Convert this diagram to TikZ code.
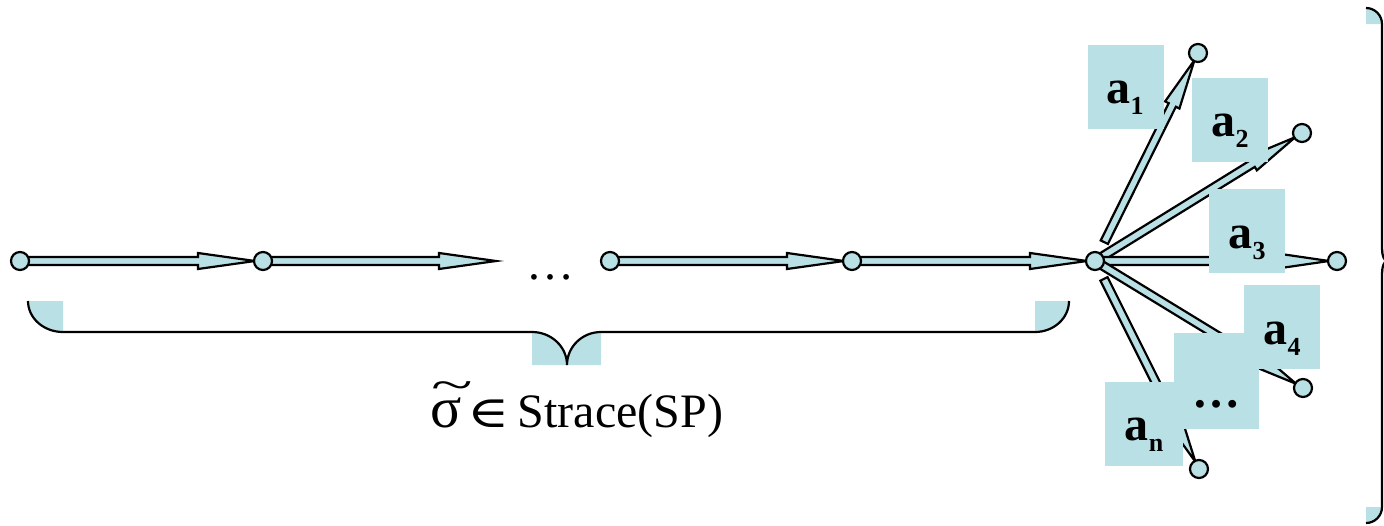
\documentclass[tikz,border=0pt]{standalone}
\usepackage{fontspec}
\setmainfont{Liberation Serif}
\newfontfamily\djserif{DejaVu Serif}
\usetikzlibrary{calc,backgrounds}
\definecolor{lb}{RGB}{185,224,228}
\newcommand{\lsub}[1]{\raisebox{-11pt}{\fontsize{26}{26}\selectfont #1}}
\newcommand{\sigtil}{\rlap{\hspace{1pt}\raisebox{28pt}{\scalebox{1.6}[0.9]{\textasciitilde}}}{\fontsize{58}{58}\selectfont σ}}
\newcommand{\blockarr}[5]{%
  \coordinate (bs) at (#1);
  \coordinate (be) at (#2);
  \coordinate (bh) at ($(be)!#4!(bs)$);
  \path[arrowbody] ($(bs)!#3!90:(be)$) -- ($(bh)!#3!-90:(bs)$) -- ($(bh)!#5!-90:(bs)$) -- (be)
    -- ($(bh)!#5!90:(bs)$) -- ($(bh)!#3!90:(bs)$) -- ($(bs)!#3!-90:(be)$) -- cycle;
}
\begin{document}
\begin{tikzpicture}[x=1pt,y=-1pt,
  arrowbody/.style={fill=lb,draw=black,line width=2.2pt},
  vtx/.style={circle,fill=lb,draw=black,line width=2.2pt,minimum size=18pt,inner sep=0pt},
  lblbox/.style={fill=lb,inner sep=0pt,minimum width=76pt,minimum height=84pt},
  lbltxt/.style={inner sep=0pt,anchor=base,font=\fontsize{48}{56}\selectfont\bfseries},
  brace/.style={draw=black,line width=2.2pt},
]
\useasboundingbox (0,0) rectangle (1384,525);
\clip (0,0) rectangle (1384,525);

% vertices
\node[vtx] (n0) at (20,261) {};
\node[vtx] (n1) at (263,261) {};
\coordinate (t1) at (496,261);
\node[vtx] (n2) at (610,261) {};
\node[vtx] (n3) at (852,261) {};
\node[vtx] (n4) at (1095,261) {};
\node[vtx] (c1) at (1198,53) {};
\node[vtx] (c2) at (1302,133) {};
\node[vtx] (c3) at (1337,261) {};
\node[vtx] (c4) at (1303,388) {};
\node[vtx] (cn) at (1199,469) {};

% arrows
\begin{pgfonlayer}{background}
\blockarr{$(n0)!8pt!(n1)$}{$(n1)!8pt!(n0)$}{4pt}{57pt}{8pt}
\blockarr{$(n1)!8pt!(t1)$}{t1}{4pt}{57pt}{8pt}
\blockarr{$(n2)!8pt!(n3)$}{$(n3)!8pt!(n2)$}{4pt}{57pt}{8pt}
\blockarr{$(n3)!8pt!(n4)$}{$(n4)!8pt!(n3)$}{4pt}{57pt}{8pt}
\blockarr{$(n4)!21pt!(c1)$}{$(c1)!8pt!(n4)$}{4pt}{50pt}{8pt}
\blockarr{$(n4)!8pt!(c2)$}{$(c2)!8pt!(n4)$}{4pt}{50pt}{8pt}
\blockarr{$(n4)!8pt!(c3)$}{$(c3)!8pt!(n4)$}{4pt}{48pt}{7pt}
\blockarr{$(n4)!8pt!(c4)$}{$(c4)!8pt!(n4)$}{4pt}{50pt}{8pt}
\blockarr{$(n4)!20pt!(cn)$}{$(cn)!8pt!(n4)$}{4pt}{50pt}{8pt}
\end{pgfonlayer}

% label boxes
\node[lblbox] (b1) at (1126,87) {};
\node[lblbox] (b2) at (1230,119.5) {};
\node[lblbox] (b3) at (1247,231) {};
\node[lblbox] (b4) at (1282,327) {};
\node[lblbox,minimum width=85pt,minimum height=96pt] (bd) at (1216.5,381) {};
\node[lblbox,minimum width=78pt] (bn) at (1144,423.5) {};

\node[lbltxt] (l1) at (1125,103) {a\lsub{1}};
\node[lbltxt] (l2) at (1230,136) {a\lsub{2}};
\node[lbltxt] (l3) at (1247,248) {a\lsub{3}};
\node[lbltxt] (l4) at (1282,344) {a\lsub{4}};
\node[lbltxt] (ld) at (1216,407) {…};
\node[lbltxt] (ln) at (1144,440) {a\lsub{n}};

% middle dots
\node[inner sep=0pt,anchor=base,font=\fontsize{48}{56}\selectfont] (dots) at (550,279) {…};

% caption
\node[inner sep=0pt,anchor=base west,font=\fontsize{48}{56}\selectfont] (cap) at (430,427)
  {\sigtil\hspace{6pt}{\djserif\fontsize{44}{48}\selectfont\scalebox{1.3}[1]{∈}}\hspace{8pt}Strace(SP)};

% bottom brace
\fill[lb] (28,301) arc[start angle=180,end angle=90,x radius=35,y radius=31] -- (63,301) -- cycle;
\fill[lb] (532,332) arc[start angle=-90,end angle=0,x radius=35,y radius=33] -- (532,365) -- cycle;
\fill[lb] (567,365) arc[start angle=180,end angle=270,x radius=34,y radius=33] -- (601,365) -- cycle;
\fill[lb] (1035,332) arc[start angle=90,end angle=0,x radius=34,y radius=31] -- (1035,301) -- cycle;
\draw[brace] (28,301) arc[start angle=180,end angle=90,x radius=35,y radius=31] -- (532,332)
  arc[start angle=-90,end angle=0,x radius=35,y radius=33]
  arc[start angle=180,end angle=270,x radius=34,y radius=33] -- (1035,332)
  arc[start angle=90,end angle=0,x radius=34,y radius=31];

% right brace
\fill[lb] (1366,8) arc[start angle=-90,end angle=0,radius=16] -- (1366,24) -- cycle;
\fill[lb] (1382,507) arc[start angle=0,end angle=90,radius=16] -- (1366,507) -- cycle;
\fill[lb] (1382,249) arc[start angle=180,end angle=90,x radius=5,y radius=12] -- (1387,249) -- cycle;
\fill[lb] (1387,261) arc[start angle=270,end angle=180,x radius=5,y radius=12] -- (1387,273) -- cycle;
\draw[brace] (1366,8) arc[start angle=-90,end angle=0,radius=16] -- (1382,249)
  arc[start angle=180,end angle=90,x radius=5,y radius=12]
  arc[start angle=270,end angle=180,x radius=5,y radius=12] -- (1382,507)
  arc[start angle=0,end angle=90,radius=16];
\end{tikzpicture}
\end{document}
